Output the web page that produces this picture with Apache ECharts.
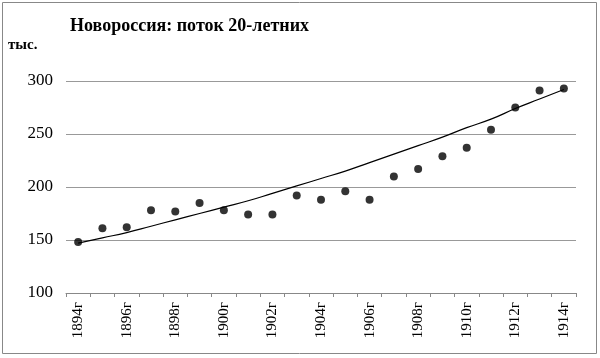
<!DOCTYPE html>
<html><head><meta charset="utf-8">
<script src="https://cdn.jsdelivr.net/npm/echarts@6/dist/echarts.min.js"></script>
<style>html,body{margin:0;padding:0;background:#fff}#c{width:600px;height:358px}</style>
</head><body><div id="c"></div>
<script>
const categories = ['1894г','1895г','1896г','1897г','1898г','1899г','1900г','1901г','1902г','1903г','1904г','1905г','1906г','1907г','1908г','1909г','1910г','1911г','1912г','1913г','1914г'];
const values = [148,161,162,178,177,185,178,174,174,192,188,196,188,210,217,229,237,254,275,291,293];
const trend = [147,152,157,163,169,175,181,187,194,201,208,215,223,231,239,247,256,264,274,283,292];
const yTicks = [100,150,200,250,300];

const serif = '"Liberation Serif","Times New Roman",serif';
const chart = echarts.init(document.getElementById('c'));
chart.setOption({
  animation:false,
  graphic:[{type:'rect',shape:{x:2.5,y:2.5,width:594,height:351},style:{fill:'none',stroke:'#888',lineWidth:1}}],
  title:{text:'Новороссия: поток 20-летних',left:65,top:12,
    textStyle:{fontFamily:serif,fontSize:18,fontWeight:'bold',color:'#000'}},
  grid:{left:66,right:24,top:81,bottom:65,containLabel:false},
  xAxis:{type:'category',data:categories,boundaryGap:true,
    axisLine:{lineStyle:{color:'#888',width:1}},
    axisTick:{show:true,interval:0,length:4,lineStyle:{color:'#888'}},
    axisLabel:{interval:1,rotate:90,margin:9,fontFamily:serif,fontSize:15,color:'#000'},
    splitLine:{show:false}},
  yAxis:{type:'value',min:yTicks[0],max:yTicks[yTicks.length-1],interval:50,
    name:'тыс.',nameLocation:'end',nameGap:0,
    nameTextStyle:{fontFamily:serif,fontSize:15,fontWeight:'bold',color:'#000',align:'left',padding:[0,0,28,-58]},
    axisLine:{show:false},axisTick:{show:false},
    axisLabel:{margin:13,fontFamily:serif,fontSize:17,color:'#000'},
    splitLine:{lineStyle:{color:'#999',width:1}}},
  series:[
    {type:'line',data:trend,smooth:true,symbol:'none',lineStyle:{color:'#000',width:1.2},z:2},
    {type:'scatter',data:values,symbol:'circle',symbolSize:8,itemStyle:{color:'#000'},z:3}
  ]
});
</script></body></html>
